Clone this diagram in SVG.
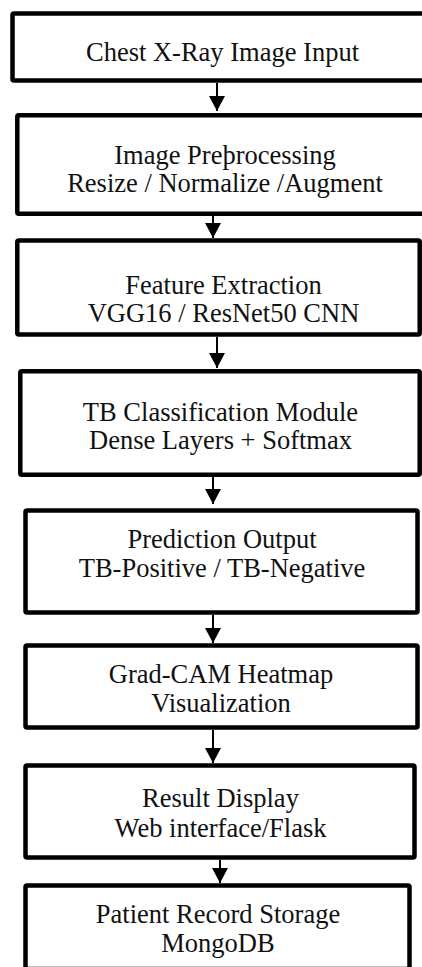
<svg xmlns="http://www.w3.org/2000/svg" width="422" height="967" viewBox="0 0 422 967">
<style>
.box{fill:#fff;stroke:#000;stroke-width:4.5;stroke-linejoin:round}
.t{font-family:"Liberation Serif","Times New Roman","DejaVu Serif",serif;font-size:26.5px;fill:#111;text-anchor:middle}
.c{stroke:#000;stroke-width:2;fill:none}
</style>
<defs>
<marker id="ah" markerUnits="userSpaceOnUse" markerWidth="16" markerHeight="16" refX="15" refY="8" orient="auto">
<path d="M0,0 L15,8 L0,16 Z" fill="#000"/>
</marker>
</defs>
<rect width="422" height="967" fill="#fff"/>
<g id="connectors">
<line class="c" x1="217" y1="83" x2="217" y2="111" marker-end="url(#ah)"/>
<line class="c" x1="213" y1="216" x2="213" y2="238" marker-end="url(#ah)"/>
<line class="c" x1="217" y1="337" x2="217" y2="368" marker-end="url(#ah)"/>
<line class="c" x1="213" y1="477" x2="213" y2="504" marker-end="url(#ah)"/>
<line class="c" x1="213" y1="615" x2="213" y2="643" marker-end="url(#ah)"/>
<line class="c" x1="213" y1="730" x2="213" y2="763" marker-end="url(#ah)"/>
<line class="c" x1="220" y1="860" x2="220" y2="883" marker-end="url(#ah)"/>
</g>
<g id="n1"><rect class="box" x="12.5" y="13.5" width="420" height="67" rx="1.5"/>
<text class="t" x="222.5" y="61">Chest X-Ray Image Input</text></g>
<g id="n2"><rect class="box" x="17.3" y="115.3" width="420" height="98.4" rx="1.5"/>
<text class="t" x="225" y="163.5">Image Preþrocessing</text>
<text class="t" x="225" y="191.5">Resize / Normalize /Augment</text></g>
<g id="n3"><rect class="box" x="17.3" y="240.5" width="402.4" height="94" rx="1.5"/>
<text class="t" x="223.5" y="294">Feature Extraction</text>
<text class="t" x="223.5" y="322">VGG16 / ResNet50 CNN</text></g>
<g id="n4"><rect class="box" x="20.3" y="371.3" width="399.4" height="103.4" rx="1.5"/>
<text class="t" x="220.5" y="421">TB Classification Module</text>
<text class="t" x="220.5" y="449">Dense Layers + Softmax</text></g>
<g id="n5"><rect class="box" x="25.5" y="510.5" width="392" height="102" rx="1.5"/>
<text class="t" x="222" y="548">Prediction Output</text>
<text class="t" x="222" y="577">TB-Positive / TB-Negative</text></g>
<g id="n6"><rect class="box" x="25.5" y="645.5" width="392" height="82" rx="1.5"/>
<text class="t" x="221" y="683">Grad-CAM Heatmap</text>
<text class="t" x="221" y="712">Visualization</text></g>
<g id="n7"><rect class="box" x="25.5" y="765.5" width="389" height="92" rx="1.5"/>
<text class="t" x="220.5" y="807">Result Display</text>
<text class="t" x="220.5" y="837">Web interface/Flask</text></g>
<g id="n8"><rect class="box" x="25.5" y="885.5" width="384" height="83.5" rx="1.5"/>
<text class="t" x="218" y="923">Patient Record Storage</text>
<text class="t" x="218" y="952">MongoDB</text></g>
</svg>
